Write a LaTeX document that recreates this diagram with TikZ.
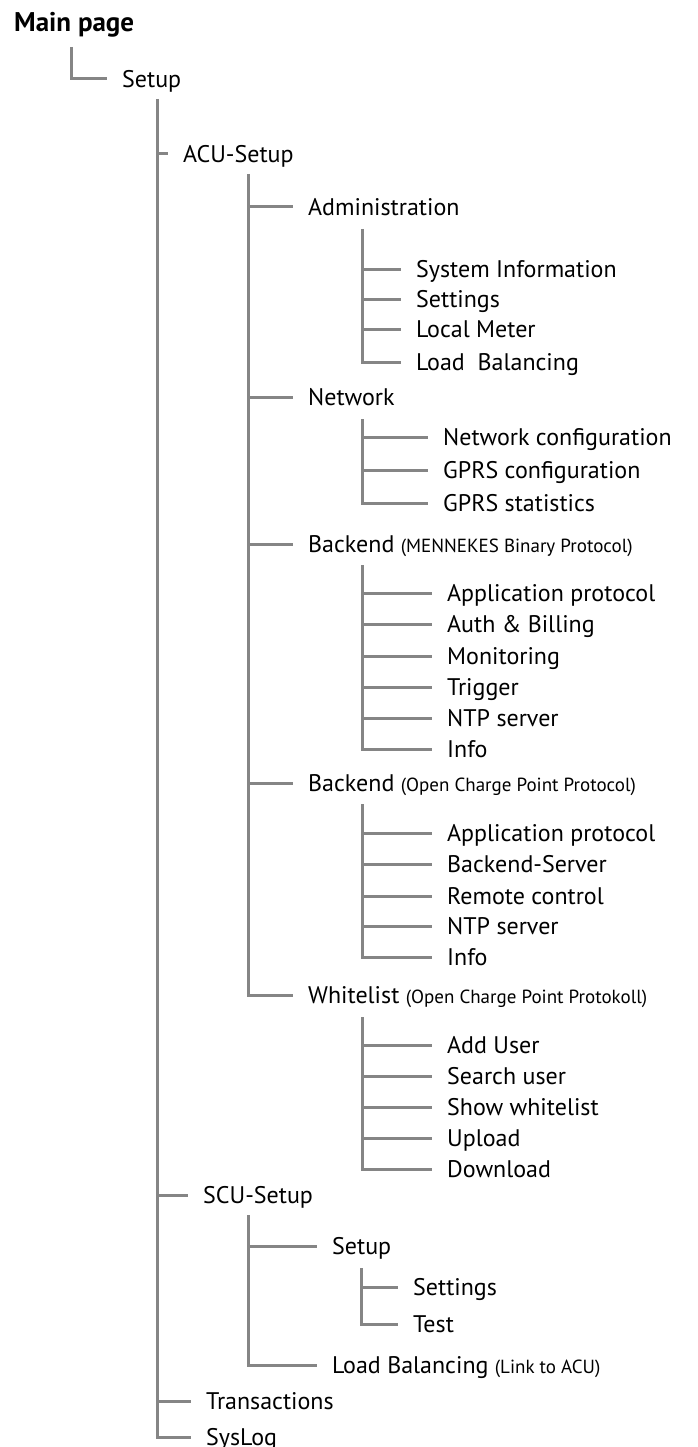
\documentclass[tikz,border=0pt]{standalone}
\usepackage{fontspec}
\setmainfont{PT Sans}
\usetikzlibrary{positioning}
\definecolor{treegray}{HTML}{858585}
\newcommand{\subnote}[1]{{\fontsize{19}{22}\selectfont(#1)}}
\tikzset{
	title/.style={anchor=west, inner sep=0pt, font=\bfseries\fontsize{27}{31}\selectfont},
	item/.style={anchor=west, inner xsep=15pt, inner ysep=0pt, text height=21pt, text depth=4pt, font=\fontsize{24}{28}\selectfont},
	branch/.style={draw=treegray, line width=3pt},
}
\begin{document}
\begin{tikzpicture}[x=1pt,y=-1pt]
	\useasboundingbox (0,0) rectangle (697,1447);
	%% root
	\node[title] (main) at (14,25) {Main page};
	\coordinate (b0) at (71.5,47);
	\node[item] (setup) at (107,79) {Setup};
	\draw[branch] (b0) |- (setup.west);
	%% setup level
	\coordinate (b1) at (157,99);
	\node[item] (acu) at (168,154) {ACU-Setup};
	\node[item] (scu) at (188,1195) {SCU-Setup};
	\node[item] (trans) at (191,1401) {Transactions};
	\node[item] (syslog) at (191,1437) {SysLog};
	%% ACU-Setup level
	\coordinate (bacu) at (248,174);
	\node[item] (admin) at (293,207) {Administration};
	\node[item] (network) at (293,397) {Network};
	\node[item] (mbp) at (293,544) {Backend \subnote{MENNEKES Binary Protocol}};
	\node[item] (ocpp) at (293,783) {Backend \subnote{Open Charge Point Protocol}};
	\node[item] (white) at (293,995) {Whitelist \subnote{Open Charge Point Protokoll}};
	% Administration
	\coordinate (badm) at (362,229);
	\node[item] (sysinfo) at (401,269) {System Information};
	\node[item] (admset) at (401,299) {Settings};
	\node[item] (meter) at (401,329) {Local Meter};
	\node[item] (admload) at (401,362) {Load\ \ Balancing};
	% Network
	\coordinate (bnet) at (362,419);
	\node[item] (netconf) at (428,437) {Network configuration};
	\node[item] (gprsconf) at (428,470) {GPRS configuration};
	\node[item] (gprsstat) at (428,503) {GPRS statistics};
	% Backend MENNEKES
	\coordinate (bmbp) at (362,565);
	\node[item] (mbpapp) at (432,593) {Application protocol};
	\node[item] (mbpauth) at (432,624) {Auth \& Billing};
	\node[item] (mbpmon) at (432,656) {Monitoring};
	\node[item] (mbptrig) at (432,687) {Trigger};
	\node[item] (mbpntp) at (432,718) {NTP server};
	\node[item] (mbpinfo) at (432,749) {Info};
	% Backend OCPP
	\coordinate (bocpp) at (362,804);
	\node[item] (ocppapp) at (432,833) {Application protocol};
	\node[item] (ocppsrv) at (432,864) {Backend-Server};
	\node[item] (ocpprc) at (432,896) {Remote control};
	\node[item] (ocppntp) at (432,926) {NTP server};
	\node[item] (ocppinfo) at (432,957) {Info};
	% Whitelist
	\coordinate (bwhite) at (362,1017);
	\node[item] (adduser) at (432,1045) {Add User};
	\node[item] (search) at (432,1076) {Search user};
	\node[item] (show) at (432,1107) {Show whitelist};
	\node[item] (upload) at (432,1138) {Upload};
	\node[item] (download) at (432,1169) {Download};
	%% SCU-Setup level
	\coordinate (bscu) at (248,1215);
	\node[item] (scuset) at (317,1246) {Setup};
	\node[item] (scuload) at (317,1365) {Load Balancing \subnote{Link to ACU}};
	\coordinate (bscuset) at (361,1268);
	\node[item] (scusettings) at (398,1287) {Settings};
	\node[item] (scutest) at (398,1324) {Test};
	% connectors
	\draw[branch] (b1) |- (syslog.west);
	\foreach \n in {acu,scu,trans} \draw[branch] (\n.west -| b1) -- (\n.west);
	\draw[branch] (bacu) |- (white.west);
	\foreach \n in {admin,network,mbp,ocpp} \draw[branch] (\n.west -| bacu) -- (\n.west);
	\draw[branch] (badm) |- (admload.west);
	\foreach \n in {sysinfo,admset,meter} \draw[branch] (\n.west -| badm) -- (\n.west);
	\draw[branch] (bnet) |- (gprsstat.west);
	\foreach \n in {netconf,gprsconf} \draw[branch] (\n.west -| bnet) -- (\n.west);
	\draw[branch] (bmbp) |- (mbpinfo.west);
	\foreach \n in {mbpapp,mbpauth,mbpmon,mbptrig,mbpntp} \draw[branch] (\n.west -| bmbp) -- (\n.west);
	\draw[branch] (bocpp) |- (ocppinfo.west);
	\foreach \n in {ocppapp,ocppsrv,ocpprc,ocppntp} \draw[branch] (\n.west -| bocpp) -- (\n.west);
	\draw[branch] (bwhite) |- (download.west);
	\foreach \n in {adduser,search,show,upload} \draw[branch] (\n.west -| bwhite) -- (\n.west);
	\draw[branch] (bscu) |- (scuload.west);
	\draw[branch] (scuset.west -| bscu) -- (scuset.west);
	\draw[branch] (bscuset) |- (scutest.west);
	\draw[branch] (scusettings.west -| bscuset) -- (scusettings.west);
\end{tikzpicture}
\end{document}
